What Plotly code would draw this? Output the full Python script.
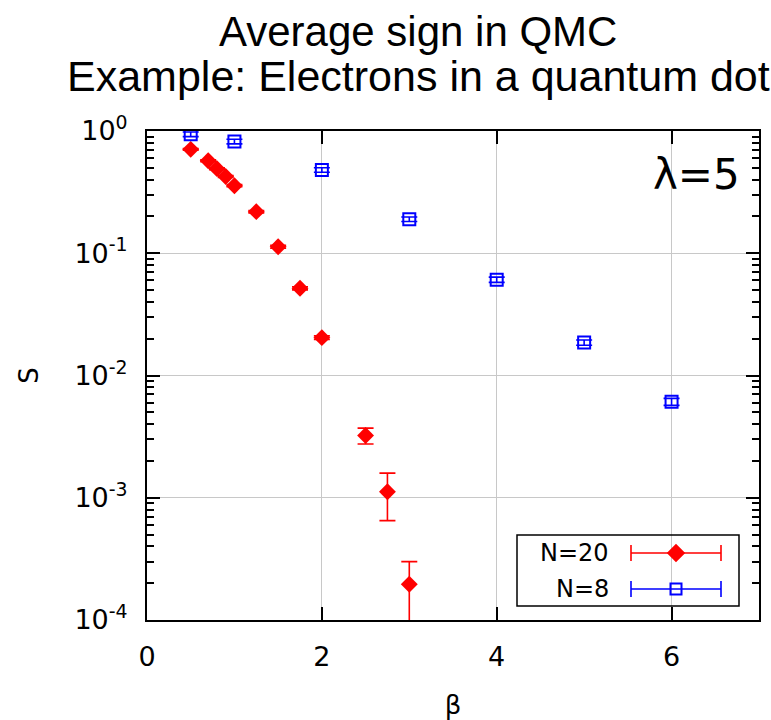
import plotly.graph_objects as go

# Average sign S versus inverse temperature beta, quantum dot, lambda = 5
beta_n20 = [0.5, 0.7, 0.8, 0.9, 1.0, 1.25, 1.5, 1.75, 2.0, 2.5, 2.75, 3.0]
sign_n20 = [0.708, 0.571, 0.492, 0.424, 0.357, 0.219, 0.113, 0.0517, 0.0204, 0.00323, 0.00112, 0.000196]
err_n20 = [0.012, 0.010, 0.009, 0.008, 0.007, 0.005, 0.003, 0.0015, 0.0007, 0.00048, 0.00047, 0.000104]

beta_n8 = [0.5, 1.0, 2.0, 3.0, 4.0, 5.0, 6.0]
sign_n8 = [0.94, 0.82, 0.48, 0.19, 0.0608, 0.0186, 0.0061]
err_n8 = [0.04, 0.035, 0.02, 0.008, 0.003, 0.0009, 0.0004]

series_names = ["N=20", "N=8"]
y_tickvals = [1e-4, 1e-3, 1e-2, 1e-1, 1]
y_ticktext = ["10<sup>-4</sup>", "10<sup>-3</sup>", "10<sup>-2</sup>", "10<sup>-1</sup>", "10<sup>0</sup>"]
x_tickvals = [0, 2, 4, 6]

RED = "#ff0000"
BLUE = "#0000ff"
TICK_FONT = dict(family="DejaVu Sans", size=27, color="black")

W, H = 771, 720
L, R, T, B = 147, 12, 131, 100
PW, PH = W - L - R, H - T - B


def px_x(px):
    return (px - L) / PW


def px_y(py):
    return (H - B - py) / PH


fig = go.Figure()

fig.add_trace(go.Scatter(
    x=beta_n20, y=sign_n20, mode="markers", name=series_names[0],
    marker=dict(symbol="diamond", size=13, color=RED),
    error_y=dict(type="data", array=err_n20, color=RED, thickness=1.6, width=8),
    showlegend=False,
))
fig.add_trace(go.Scatter(
    x=beta_n8, y=sign_n8, mode="markers", name=series_names[1],
    marker=dict(symbol="square-open", size=12, color=BLUE, line=dict(width=2, color=BLUE)),
    error_y=dict(type="data", array=err_n8, color=BLUE, thickness=1.6, width=8),
    showlegend=False,
))

# Key samples drawn on an overlay axis spanning the plot area in [0, 1]
key_rows = [553, 589]
key_colors = [RED, BLUE]
key_symbols = ["diamond", "square-open"]
for name, row, col, sym in zip(series_names, key_rows, key_colors, key_symbols):
    fig.add_trace(go.Scatter(
        x=[px_x(676)], y=[px_y(row)], xaxis="x2", yaxis="y2", mode="markers",
        marker=dict(symbol=sym, size=12 if sym == "diamond" else 11, color=col,
                    line=dict(width=2, color=col)),
        error_x=dict(type="constant", value=px_x(721) - px_x(676), color=col,
                     thickness=1.6, width=8),
        showlegend=False, hoverinfo="skip",
    ))
    fig.add_annotation(
        x=px_x(611), y=px_y(row), xref="paper", yref="paper", text=name,
        showarrow=False, xanchor="right", yanchor="middle",
        font=dict(family="DejaVu Sans", size=24, color="black"),
    )

fig.add_shape(type="rect", xref="paper", yref="paper",
              x0=px_x(517), x1=px_x(739), y0=px_y(606), y1=px_y(535),
              line=dict(color="black", width=1.5), fillcolor="rgba(0,0,0,0)")

fig.add_annotation(
    x=px_x(742), y=px_y(174), xref="paper", yref="paper", text="λ=5",
    showarrow=False, xanchor="right", yanchor="middle",
    font=dict(family="DejaVu Sans", size=42, color="black"),
)

# Two-line title
fig.add_annotation(
    x=px_x(418), y=px_y(31), xref="paper", yref="paper", text="Average sign in QMC",
    showarrow=False, xanchor="center", yanchor="middle",
    font=dict(family="Liberation Sans", size=42, color="black"),
)
fig.add_annotation(
    x=px_x(418), y=px_y(76), xref="paper", yref="paper",
    text="Example: Electrons in a quantum dot",
    showarrow=False, xanchor="center", yanchor="middle",
    font=dict(family="Liberation Sans", size=43, color="black"),
)

fig.update_layout(
    width=W, height=H,
    margin=dict(l=L, r=R, t=T, b=B, pad=0, autoexpand=False),
    paper_bgcolor="white", plot_bgcolor="white",
    showlegend=False,
    xaxis=dict(
        range=[0, 7], tickvals=x_tickvals, ticks="inside", ticklen=13, tickwidth=2,
        tickcolor="black", showline=True, linecolor="black", linewidth=2, mirror="allticks",
        showgrid=True, gridcolor="#c8c8c8", gridwidth=1.2, zeroline=False,
        tickfont=TICK_FONT, ticklabelstandoff=12, automargin=False,
        title=dict(text="β", font=dict(family="DejaVu Sans", size=26, color="black"), standoff=28),
    ),
    yaxis=dict(
        type="log", range=[-4, 0], tickvals=y_tickvals, ticktext=y_ticktext,
        ticks="inside", ticklen=13, tickwidth=2, tickcolor="black",
        showline=True, linecolor="black", linewidth=2, mirror="allticks",
        showgrid=True, gridcolor="#c8c8c8", gridwidth=1.2, zeroline=False,
        tickfont=TICK_FONT, ticklabelstandoff=12, automargin=False,
        minor=dict(ticks="inside", ticklen=7, tickwidth=1.5, tickcolor="black",
                   dtick="D1", showgrid=False),
        title=dict(text="S", font=dict(family="DejaVu Sans", size=26, color="black"), standoff=28),
    ),
    xaxis2=dict(overlaying="x", range=[0, 1], visible=False, fixedrange=True),
    yaxis2=dict(overlaying="y", range=[0, 1], visible=False, fixedrange=True),
)

fig.write_html("out.html")
